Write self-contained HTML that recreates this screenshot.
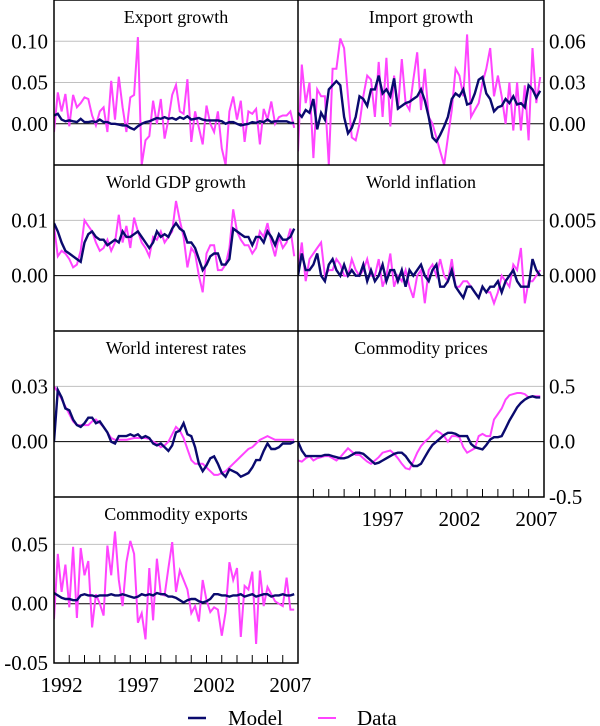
<!DOCTYPE html>
<html><head><meta charset="utf-8"><style>
body{margin:0;background:#fff;}
svg{display:block;font-family:"Liberation Serif",serif;}
</style></head><body>
<svg id="c" width="600" height="726" viewBox="0 0 600 726" xmlns="http://www.w3.org/2000/svg"></svg>
<script>
const years = [1992, 1997, 2002, 2007];
const exportData = [-1,3.8,1.5,3.6,-0.3,3.5,2,2.5,3.2,3,1,-0.2,1.5,2,-1,5.2,0.5,5.7,2,-1,3.2,3.5,10.5,-5,-2,-1.5,2.8,0,3,-1.8,0.5,3.5,4.7,1.5,1.2,5.4,-2.2,1.5,-0.5,-2.5,2.2,0,-1,1.5,-3,-5,1.5,3.3,0.5,2.8,-2.2,1.5,1.2,1.8,-2.5,1.8,0.5,2.7,0,0.8,1,1,1.5,-0.5];
const exportModel = [1,1.2,0.5,0.3,0.4,0.3,0.2,0.6,0.2,0.2,0.3,0.2,0.5,0.2,0.2,0,0,-0.1,-0.2,-0.2,-0.5,-0.7,-0.3,0,0.2,0.3,0.5,0.7,0.6,0.8,0.6,0.7,0.5,0.8,0.6,0.9,0.5,0.6,0.7,0.5,0.4,0.4,0.4,0.4,0.3,0,0.2,0.2,0,-0.2,-0.1,0,0.2,0.1,0.3,0.2,0.5,0.2,0.3,0.3,0.3,0.3,0.1,0.1];
const importData = [-2,4.3,1.5,3,-2.5,2.5,2,2,-3,4,4,6.2,5.5,2,-1,-1.2,0,2,3.5,3.2,0.5,4.5,0.5,4.8,-0.2,3.5,1,4.7,1.5,1,3.2,5.2,1,4,0.5,0,-1,-2,-3,-1,1,4,3.5,2,6.5,0.5,1,1.5,3,4,5.5,2,3.5,2,0,3,-0.5,3,-0.5,2.8,-1.2,5.5,1.5,3.4];
const importModel = [0.8,0.5,1,0.8,1.8,-0.4,0.8,0.3,2.5,2.8,3.1,2.8,0.5,-0.7,-0.3,0.5,2,1.8,1.3,2.5,2.5,3.5,2.2,2.5,2,3.3,1.1,1.3,1.5,1.6,1.8,2,2.5,1.7,0.5,-1,-1.3,-0.8,-0.2,0.5,1.8,2.2,2,2.5,1.4,1.5,2.2,3.2,3.4,2.2,1.8,0.9,1.2,1.3,1.8,1.5,2,1.4,1.5,1.2,2.8,2.5,1.9,2.4];
const gdpData = [9,3.5,4.5,4,3,1.5,2,4.5,10,9,8,6,4.5,5,6.5,4.5,6,11,6,9,5,10.5,8,6,5,3.5,7,6.5,8,6,7,8,13.5,10,7,1.5,5,4,0,-3,4,5.5,5.5,1,1,2,5,12,8,6.5,5.5,5.5,4,5,8,7,9.5,6,3.5,7,5,6,8.5,3.5];
const gdpModel = [9.5,8,6,4.5,4,3.5,3,2.5,6,7.5,8,7,6.5,6.5,5.5,6,6.5,6,8,7,7,7.5,8,7,6,5,6,8,7,7.5,7,8.5,9.5,8.5,8,6,6,5,3,1,2,3.5,4,4,2,2,3,8.5,8,7.5,7,7,5.5,7,7,6,8,7,5.5,7.5,6.5,6.5,7,8.5];
const inflData = [5,30,-5,15,20,25,30,0,5,5,15,10,0,0,15,5,0,5,15,0,0,15,-10,0,20,-10,0,-5,5,-10,-20,0,5,-25,5,10,0,15,0,-5,15,-10,-10,-5,-5,-10,-15,-20,-10,-15,-15,-25,-15,0,-5,-10,10,5,25,-25,-5,-5,0,5];
const inflModel = [0,20,5,5,10,20,0,-5,10,15,5,0,10,0,5,0,0,10,-5,5,-5,0,10,-5,5,5,-5,5,-10,5,0,5,10,0,-5,5,10,-10,-10,-5,5,-10,-15,-20,-10,-10,-15,-20,-10,-15,-10,-10,-5,-15,-5,0,5,-5,-10,-10,-10,15,5,0];
const rateData = [30,27,23,19,15,11,9,9,9,9,11,12,10,8,5,2,1,1,1,1,1.5,2,2,2,2,1.5,0,-1,-3,-2,0,4,8,6,2,-4,-10,-12,-12,-12,-14,-16,-18,-18,-17,-16,-14,-12,-10,-8,-6,-4,-3,-1,1,2,3,2,1,1,1,1,1,1];
const rateModel = [0,28,24,18,17,12,9,8,10,13,13,10,11,8,5,0,-1,3,3,3,4,3,4,2,3,2,-1,-2,-1,-3,-5,-2,5,6,10,4,3,-3,-12,-16,-13,-9,-8,-12,-17,-19,-15,-16,-17,-19,-18,-17,-14,-10,-10,-5,-1,-4,-4,-3,-1,-1,-1,0];
const commData = [-17,-18,-15,-13,-17,-15,-14,-13,-13,-15,-17,-14,-10,-6,-9,-12,-12,-15,-18,-20,-17,-14,-10,-9,-8,-11,-15,-20,-24,-25,-18,-10,-4,0,3,7,10,8,5,0,5,5,4,-5,-10,-8,-6,5,7,5,5,20,25,30,38,42,43,44,44,43,40,41,41,41];
const commModel = [0,-8,-13,-13,-13,-13,-13,-12,-12,-13,-14,-15,-15,-14,-12,-10,-10,-11,-14,-17,-20,-19,-17,-15,-13,-11,-10,-10,-13,-18,-22,-22,-20,-14,-8,-3,0,3,6,8,8,7,5,5,5,-2,-5,-6,-7,-3,2,4,4,5,12,19,25,31,35,38,40,41,40,40];
const cexpData = [-13,42,10,33,-3,48,-12,47,24,36,-20,8,0,-10,49,24,61,20,-2,35,53,42,-16,-8,-30,30,-14,38,8,7,30,52,10,28,20,12,-8,-2,-15,20,3,-7,-3,-5,-27,-7,35,20,30,-28,15,12,27,-34,28,-2,14,8,2,0,-2,22,-5,-5];
const cexpModel = [9,7,5,4,4,3,3,7,8,7,7,6,7,7,7,8,7,7,8,7,6,5,6,8,7,8,7,9,8,8,6,6,5,3,1,3,4,4,2,1,2,4,8,8,7,7,6,7,7,8,6,7,8,6,7,8,8,6,7,7,8,7,7,8];

const NS="http://www.w3.org/2000/svg";
const svg=document.getElementById('c');
function mk(tag,attrs,parent){const e=document.createElementNS(NS,tag);for(const k in attrs)e.setAttribute(k,attrs[k]);(parent||svg).appendChild(e);return e;}
const L=[54,298],R=[298,544];
const rows=[[0,165],[165,331],[331,497],[497,663]];
function panel(name,title,col,row,ymin,ymax,scale,ticks,labels,side,data,model){
  const g=mk('g',{});
  
  
  const [x0,x1]=col,[y0,y1]=row;
  const xs=i=>x0+(i/4)*(x1-x0)/16;
  const ys=v=>y1-(v*scale-ymin)/(ymax-ymin)*(y1-y0);
  ticks.forEach((t,k)=>{
    const y=ys(t/scale);
    if(t!==0&&y>y0+2&&y<y1-2){const gl=mk('line',{x1:x0,x2:x1,y1:y,y2:y,stroke:'#c0c0c0','stroke-width':1},g);}
    if(t===0){const zl=mk('line',{x1:x0,x2:x1,y1:y,y2:y,stroke:'#000','stroke-width':1},g);}
    const tx=mk('text',{x:side==='L'?48:549,y:y+7,'font-size':21,'text-anchor':side==='L'?'end':'start'},g);
    tx.textContent=labels[k];
    
    
  });
  const clip='clip-'+name;
  const cp=mk('clipPath',{id:clip},g);mk('rect',{x:x0,y:y0,width:x1-x0,height:y1-y0},cp);
  const pts=a=>a.map((v,i)=>xs(i).toFixed(1)+','+ys(v).toFixed(1)).join(' ');
  const d=mk('polyline',{points:pts(data),fill:'none',stroke:'#ff44ff','stroke-width':2,'clip-path':'url(#'+clip+')'},g);
  
  
  const m=mk('polyline',{points:pts(model),fill:'none',stroke:'#0a0a6e','stroke-width':2.4,'clip-path':'url(#'+clip+')'},g);
  
  
  const t=mk('text',{x:(x0+x1)/2,y:y0+23,'font-size':18,'text-anchor':'middle'},g);
  t.textContent=title;
  
  
}
panel('export-growth','Export growth',L,rows[0],-0.05,0.15,0.01,[0.10,0.05,0],['0.10','0.05','0.00'],'L',exportData,exportModel);
panel('import-growth','Import growth',R,rows[0],-0.03,0.09,0.01,[0.06,0.03,0],['0.06','0.03','0.00'],'R',importData,importModel);
panel('world-gdp-growth','World GDP growth',L,rows[1],-0.01,0.02,0.001,[0.01,0],['0.01','0.00'],'L',gdpData,gdpModel);
panel('world-inflation','World inflation',R,rows[1],-0.005,0.01,0.0001,[0.005,0],['0.005','0.000'],'R',inflData,inflModel);
panel('world-interest-rates','World interest rates',L,rows[2],-0.03,0.06,0.001,[0.03,0],['0.03','0.00'],'L',rateData,rateModel);
panel('commodity-prices','Commodity prices',R,rows[2],-0.5,1.0,0.01,[0.5,0,-0.5],['0.5','0.0','-0.5'],'R',commData,commModel);
panel('commodity-exports','Commodity exports',L,rows[3],-0.05,0.09,0.001,[0.05,0,-0.05],['0.05','0.00','-0.05'],'L',cexpData,cexpModel);

const fr=mk('path',{d:'M54,0H544V497H298V663H54Z M54,165H544 M54,331H544 M54,497H298 M298,0V663',fill:'none',stroke:'#000','stroke-width':1.5});


function xaxis(col,yb,skipFirst){
  const [x0,x1]=col;const py=(x1-x0)/16;
  for(let k=1;k<16;k++){const tk=mk('line',{x1:x0+k*py,x2:x0+k*py,y1:yb,y2:yb-8,stroke:'#000','stroke-width':1});}
  years.forEach((yr,k)=>{if(skipFirst&&k===0)return;const t=mk('text',{x:x0+(yr-1992+0.5)*py,y:yb+29,'font-size':21,'text-anchor':'middle'});t.textContent=yr;});
}
xaxis(R,497,true);xaxis(L,663,false);
const lg=mk('g',{});


const l1=mk('line',{x1:188,x2:206,y1:718,y2:718,stroke:'#0a0a6e','stroke-width':2.4},lg);


const t1=mk('text',{x:228,y:725,'font-size':21},lg);t1.textContent='Model';


const l2=mk('line',{x1:318,x2:336,y1:718,y2:718,stroke:'#ff44ff','stroke-width':2},lg);


const t2=mk('text',{x:357,y:725,'font-size':21},lg);t2.textContent='Data';


</script>
</body></html>
